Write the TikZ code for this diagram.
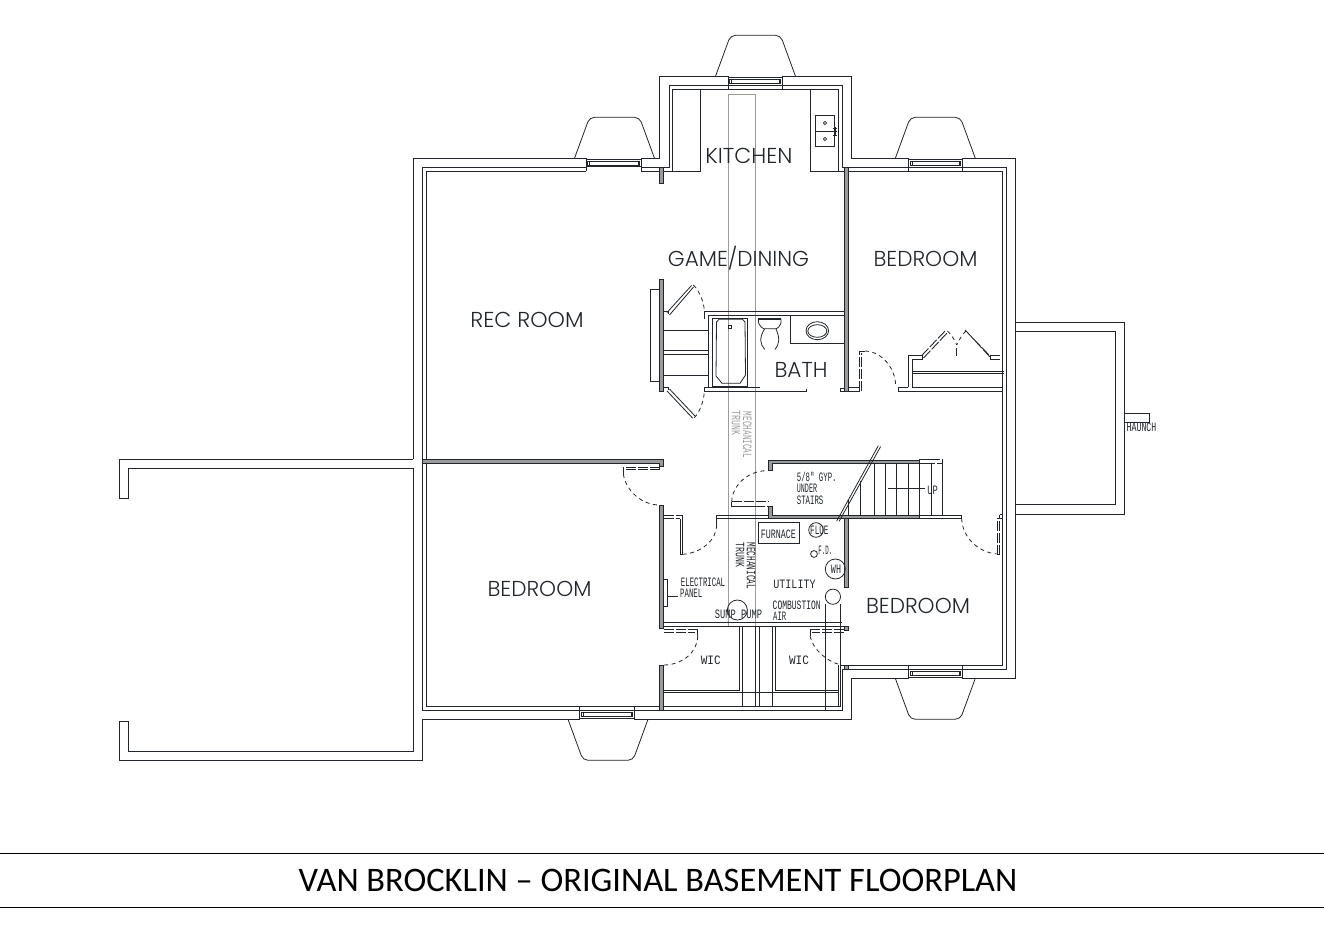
\documentclass[tikz,border=0pt]{standalone}
\usepackage{fontspec}
\usepackage{graphicx}
\usetikzlibrary{calc}
\setmainfont{Carlito}
\newfontfamily\roomfont{Poppins Light}
\newfontfamily\cadfont{Liberation Mono}
\definecolor{ink}{HTML}{20262B}
\definecolor{wallgray}{HTML}{9A9A9A}
\definecolor{trunkgray}{HTML}{9C9C9C}
\newcommand{\cadtxt}[2][0.92]{\scalebox{#1}[1.6]{\cadfont\fontsize{8}{8}\selectfont #2}}
\newcommand{\roomtxt}[2][1]{\scalebox{#1}[1]{\roomfont\fontsize{21.6}{21.6}\selectfont #2}}
\newcommand{\swing}[6]{\draw[swingline] (#1,#2) .. controls ($(#1,#2)!0.55!(#3,#4)$) and ($(#5,#6)!0.55!(#3,#4)$) .. (#5,#6);}
\newcommand{\win}[4]{\begin{scope}[shift={(0,#3)},yscale=#4]
  \draw[wall] (#1,0)--(#1,13) (#2,0)--(#2,13);
  \draw[thin line] (#1,1)--(#2,1);
  \draw[thin line] (#1+3,3)--(#2-3,3) (#1+3,7)--(#2-3,7);
  \draw[thin line] (#1+1.5,3.2) rectangle (#1+3.3,6.8) (#2-3.3,3.2) rectangle (#2-1.5,6.8);
\end{scope}}
\newcommand{\bay}[3]{\begin{scope}[shift={(#1,#2)},yscale=#3]
  \draw[thin line,rounded corners=5pt] (-40,0)--(-25,-41)--(25,-41)--(40,0);
\end{scope}}
\tikzset{
  wall/.style={draw=ink,line width=1pt,line cap=square,line join=miter},
  thin line/.style={draw=ink,line width=0.8pt},
  swingline/.style={draw=ink,line width=0.8pt,dash pattern=on 4pt off 3.5pt},
  leafdash/.style={draw=ink,line width=0.9pt,dash pattern=on 10pt off 2pt},
  gwall/.style={fill=wallgray,draw=ink,line width=0.8pt},
  trunk/.style={draw=trunkgray,line width=1pt},
  roomlabel/.style={text=ink,inner sep=0pt},
  cad/.style={text=ink,inner sep=0pt},
  cadgray/.style={text=trunkgray,inner sep=0pt},
}
\begin{document}
\begin{tikzpicture}[x=1pt,y=-1pt]
\useasboundingbox (0,0) rectangle (1324,931);
% trunk
\draw[trunk] (728.5,626)--(728.5,94.3)--(755.5,94.3)--(755.5,626)--cycle;
% outer shell
\draw[wall] (413.3,459.3)--(413.3,158.3)--(586.3,158.3);
\draw[wall] (641.3,158.3)--(659.3,158.3)--(659.3,76.3)--(728.3,76.3);
\draw[wall] (782.3,76.3)--(851.7,76.3)--(851.7,158.3)--(908.7,158.3);
\draw[wall] (962.3,158.3)--(1015.3,158.3)--(1015.3,678.3)--(962.3,678.3);
\draw[wall] (908.7,678.3)--(851.3,678.3)--(851.3,719.3)--(634.3,719.3);
\draw[wall] (579.7,719.3)--(422.3,719.3)--(422.3,760.3)--(119.3,760.3)--(119.3,721.3)--(128.3,721.3)--(128.3,751.3)--(413.3,751.3)--(413.3,468.3)--(128.3,468.3)--(128.3,498.3)--(119.3,498.3)--(119.3,459.3)--(413.3,459.3);
% middle line
\draw[wall] (586.3,167.3)--(422.3,167.3)--(422.3,710.3)--(579.7,710.3);
\draw[wall] (641.3,167.3)--(669.3,167.3)--(669.3,85.3)--(728.3,85.3);
\draw[wall] (728.3,85.3)--(782.3,85.3)--(842.7,85.3)--(842.7,167.3)--(908.7,167.3);
\draw[wall] (908.7,167.3)--(962.3,167.3)--(1006.7,167.3)--(1006.7,669.3)--(962.3,669.3);
\draw[wall] (962.3,669.3)--(908.7,669.3)--(842.3,669.3)--(842.3,710.3)--(634.3,710.3);
\draw[wall] (634.3,710.3)--(579.7,710.3);
% inner line
\draw[wall] (586.3,171.3)--(426.3,171.3)--(426.3,706.3)--(579.7,706.3);
\draw[wall] (641.3,171.3)--(700.7,171.3)--(700.7,89.7)--(672.7,89.7)--(672.7,171.3);
\draw[wall] (700.7,89.7)--(810.3,89.7);
\draw[wall] (810.3,89.7)--(838.7,89.7)--(838.7,171.3)--(810.3,171.3)--cycle;
\draw[wall] (838.7,171.3)--(1002.7,171.3)--(1002.7,665.3)--(840.7,665.3);
\draw[wall] (579.7,706.3)--(840.7,706.3);
% windows
\win{728.3}{782.3}{76.3}{1}
\win{586.3}{641.3}{158.3}{1}
\draw[thin line] (586.3,166)--(641.3,166);
\win{908.7}{962.3}{158.3}{1}
\win{908.7}{962.3}{678.3}{-1}
\win{579.7}{634.3}{719.3}{-1}
% bays
\bay{755.5}{76.3}{1}
\bay{614.5}{158.3}{1}
\bay{935.3}{158.3}{1}
\bay{935.3}{678.3}{-1}
\bay{608}{719.3}{-1}
% porch and haunch
\draw[wall] (1015.3,322.3)--(1124.3,322.3)--(1124.3,514.3)--(1015.3,514.3);
\draw[wall] (1015.3,331.3)--(1115.3,331.3)--(1115.3,504.3)--(1015.3,504.3);
\draw[wall] (1124.3,413.3)--(1149.3,413.3)--(1149.3,422.3)--(1124.3,422.3);
\node[cad] (haunch) at (1141.5,427) {\cadtxt[1.03]{HAUNCH}};
% kitchen sink
\draw[thin line] (815.3,115.3) rectangle (834.7,146.7) (815.3,131)--(834.7,131);
\draw[thin line] (825,123) circle (1.6) (825,139) circle (1.6);
\draw[thin line] (835,127)--(835,136) (833,128)--(837,128) (833,131)--(837,131) (833,135)--(837,135);
% gray walls
\filldraw[gwall] (659.3,167.3) rectangle (663.7,183.3);
\filldraw[gwall] (844.3,167.3) rectangle (848.7,391);
\filldraw[gwall] (659.3,279.3) rectangle (663.7,391.3);
\filldraw[gwall] (422.3,459.3)--(663.7,459.3)--(663.7,466.3)--(659.7,466.3)--(659.7,463.3)--(422.3,463.3)--cycle;
\filldraw[gwall] (659.3,505.3) rectangle (663.7,628.3);
\filldraw[gwall] (659.3,665) rectangle (663.7,710.3);
\filldraw[gwall] (772,470)--(768,470)--(768,460)--(919.3,460)--(919.3,463.7)--(772,463.7)--cycle;
\filldraw[gwall] (772,506.7)--(768,506.7)--(768,518.3)--(919.3,518.3)--(919.3,515)--(772,515)--cycle;
\filldraw[gwall] (844.3,518.3) rectangle (848.7,587.7);
\filldraw[gwall] (844.3,626.7) rectangle (848.7,630);
\filldraw[gwall] (844.3,665.3) rectangle (848.7,669.3);
% fireplace
\draw[wall] (659.3,289.3)--(650.3,289.3)--(650.3,381.3)--(659.3,381.3);
\draw[wall] (663.7,330.3)--(708.3,330.3) (663.7,350.3)--(708.3,350.3) (663.7,354.7)--(708.3,354.7) (663.7,375.3)--(708.3,375.3);
% bath walls
\draw[wall] (704.3,319)--(704.3,311)--(844.3,311);
\draw[wall] (708.3,387.3)--(708.3,315.3)--(844.3,315.3);
\draw[wall] (760,387.3)--(704.3,387.3)--(704.3,391)--(806.7,391)--(806.7,388.7);
\draw[wall] (840,391)--(840,388.3)--(844.3,388.3);
\draw[wall] (840,391)--(844.3,391);
% double doors at the fireplace
\draw[thin line] (663.7,311)--(668.3,311)--(668.3,314);
\draw[thin line] (667,312.5)--(691.5,285.5) (669.5,315)--(693.5,287);
\swing{693.3}{285}{704}{295}{704.3}{311}
\draw[thin line] (663.7,387.3)--(668.3,387.3)--(668.3,390);
\draw[thin line] (667,391)--(692.5,418) (669.5,389)--(695,416);
\swing{694.3}{417.7}{704}{408}{704.3}{391}
% tub
\draw[wall] (712.7,318.3) rectangle (747.7,386.7);
\draw[draw=ink,line width=1.6pt] (712.7,318.3)--(747.7,318.3) (712.7,386.7)--(747.7,386.7);
\draw[thin line] (719,319.3)--(742.5,319.3)--(745,322)--(745.5,375)--(740,383.3)--(722,383.3)--(716,376)--(716.5,322)--cycle;
\draw[thin line] (728.2,325.2) rectangle (731.4,328.2);
% toilet
\draw[draw=ink,line width=1.5pt] (758.3,319)--(781,319);
\draw[thin line] (758.3,319) .. controls (757.8,327) and (764,328.7) .. (764,328.7)--(776,328.7) .. controls (776,328.7) and (782,327) .. (781,319);
\draw[thin line] (764.5,329) .. controls (759,338) and (760,344) .. (764.7,349.5);
\draw[thin line] (776,329) .. controls (780,338) and (779.5,344) .. (775,349.5);
% vanity
\draw[wall] (790.3,315.3)--(790.3,343.3)--(844.3,343.3);
\draw[thin line] (817.3,330.7) ellipse (11.3 and 9);
\draw[thin line] (817.3,331) ellipse (9.5 and 6.3);
% bedroom door by the bath
\draw[leafdash] (859.7,391)--(859.7,351)--(865,351);
\draw[leafdash] (861.6,391)--(861.6,353);
\draw[leafdash] (848.7,387)--(860,387);
\draw[thin line] (848.7,391)--(860,391);
\swing{865}{351}{895}{352}{895.7}{386}
\draw[wall] (898.3,387.3)--(898.3,391)--(1002.7,391);
% closet
\draw[leafdash] (898.3,387.3)--(908.3,387.3);
\draw[wall] (908.3,387.3)--(908.3,355.7);
\draw[thin line] (908.3,355.7)--(922.7,355.7)--(922.7,359.3)--(912.3,359.3);
\draw[wall] (912.3,359.3)--(912.3,387.3)--(1002.7,387.3);
\draw[wall] (912.3,371.7)--(1004,371.7) (912.3,373.5)--(1004,373.5);
\draw[leafdash] (921.5,355.7)--(946,330) (923.5,358)--(948,332);
\draw[leafdash] (967,332)--(990,357) (965,330)--(989,355);
\swing{947.3}{331}{953}{335}{956.7}{345}
\swing{966}{331}{961}{335}{956.7}{345}
\draw[thin line] (956.7,348.3)--(956.7,355.7);
\draw[thin line] (990,355.7)--(990,359.3);
\draw[leafdash] (990,355.7)--(1002.7,355.7) (990,359.3)--(1002.7,359.3);
% door rec / bedroom
\draw[leafdash] (659.7,467.3)--(623.3,467.3);
\draw[leafdash] (659.7,469.6)--(623.3,469.6);
\draw[thin line] (659.7,463.3)--(659.7,469.6);
\draw[thin line] (623.3,467.3)--(623.3,474);
\swing{623.3}{474}{628}{505}{659.3}{505}
% utility door top
\draw[leafdash] (663.7,515)--(682.7,515) (663.7,518.7)--(680.3,518.7);
\draw[thin line] (682.7,515)--(682.7,554.3)--(680.3,554.3)--(680.3,518.7);
\swing{682.7}{554.3}{716.7}{552}{716.7}{525}
\draw[wall] (716.7,525)--(716.7,515)--(768,515);
\draw[wall] (716.7,518.7)--(768,518.7);
% under stairs door
\draw[wall] (731.7,501.7)--(731.7,506)--(755,506);
\draw[leafdash] (731.7,501.7)--(768,501.7);
\draw[leafdash] (755,506)--(768,506);
\swing{731.7}{501.7}{733}{471}{766.7}{470.7}
% stairs
\draw[thin line] (860,481)--(860,515) (874.3,463.7)--(874.3,515) (885.7,463.7)--(885.7,515) (896.7,463.7)--(896.7,515) (908,463.7)--(908,515) (919.3,463.7)--(919.3,515) (931.7,463.7)--(931.7,515);
\draw[thin line] (848.7,500)--(848.7,515);
\draw[wall] (942.5,463.5)--(942.5,515);
\draw[thin line] (919.3,459.8)--(930,459.8) (919.3,463.5)--(930,463.5);
\draw[leafdash] (930,459.8)--(942.5,459.8)--(942.5,463.5)--(930,463.5);
\draw[thin line] (888.3,488.3)--(925,488.3);
\draw[thin line] (878.3,445.7)--(836.7,521) (880.6,446.6)--(839,521.5);
% stairs bottom line and door
\draw[wall] (919.3,515)--(961.7,515)--(961.7,518.3)--(919.3,518.3);
\swing{961.7}{518.3}{962}{551}{996.7}{554}
\draw[thin line] (997.3,554.7)--(1000,554.7);
\draw[leafdash] (997.3,554.7)--(997.3,518);
\draw[leafdash] (999.7,554.7)--(999.7,515);
\draw[thin line] (997.3,518)--(1002.7,518) (999.7,514.3)--(1002.7,514.3);
% utility bottom wall
\draw[wall] (663.7,622.3)--(841.7,622.3);
\draw[wall] (663.7,626.7)--(844.3,626.7);
\draw[leafdash] (663.7,629.3)--(697.7,629.3) (663.7,632)--(695,632);
\draw[thin line] (697.7,629.3)--(697.7,636);
\swing{697.7}{636}{697.7}{665}{663.7}{665}
\draw[leafdash] (844.3,629.3)--(810,629.3) (844.3,632)--(812,632);
\draw[thin line] (810,629.3)--(810,636);
\swing{810}{636}{815}{660}{841.7}{665}
% closets
\draw[wall] (739.7,626.7)--(739.7,690.7)--(663.7,690.7);
\draw[wall] (742.3,626.7)--(742.3,706.3);
\draw[wall] (755.3,626.7)--(755.3,706.3) (759.3,626.7)--(759.3,706.3);
\draw[wall] (772.3,626.7)--(772.3,706.3);
\draw[wall] (775.3,626.7)--(775.3,690.7)--(838.3,690.7);
\draw[wall] (663.7,692.5)--(838.3,692.5);
\draw[wall] (838.3,665.3)--(838.3,706.3);
% utility fixtures
\draw[wall] (825.3,604)--(825.3,710.3);
\draw[wall] (840.7,604)--(840.7,706.3);
\draw[thin line] (832.9,596.7) circle (7.6);
\draw[thin line] (663.7,579.3) rectangle (667.3,606);
\draw[thin line] (667.3,596.7)--(678.3,596.7);
\draw[wall] (758.3,522.7) rectangle (799.3,543.3);
\draw[thin line] (816,530) circle (7.3);
\draw[thin line] (814,554) circle (3.4);
\draw[thin line] (835.3,569) circle (10);
\draw[thin line] (737.3,610) circle (10);
% room labels
\node[roomlabel] (kitchen) at (749,156) {\roomtxt[1.02]{KITCHEN}};
\node[roomlabel] (game) at (738.5,258.5) {\roomtxt{GAME/DINING}};
\node[roomlabel] (bed1) at (925.5,258.5) {\roomtxt{BEDROOM}};
\node[roomlabel] (rec) at (527,320) {\roomtxt[1.02]{REC ROOM}};
\node[roomlabel] (bed2) at (539.5,588.5) {\roomtxt{BEDROOM}};
\node[roomlabel] (bed3) at (918,606) {\roomtxt{BEDROOM}};
\node[roomlabel] (bath) at (801,369.5) {\roomtxt{BATH}};
% cad labels
\node[cad] (ep1) at (703,582) {\cadtxt{ELECTRICAL}};
\node[cad,anchor=west] (ep2) at (680,593) {\cadtxt{PANEL}};
\node[cad] (furn) at (778.3,534) {\cadtxt[1.04]{FURNACE}};
\node[cad] (flue) at (819.3,530) {\cadtxt[0.95]{FLUE}};
\node[cad] (fd) at (825.3,550) {\cadtxt[0.72]{F.D.}};
\node[cad] (wh) at (836,569) {\cadtxt[1.05]{WH}};
\node[cad] (util) at (794.5,584) {\cadtxt[1.26]{UTILITY}};
\node[cad] (comb) at (796.7,605) {\cadtxt[1]{COMBUSTION}};
\node[cad,anchor=west] (air) at (773,616) {\cadtxt[0.9]{AIR}};
\node[cad] (sump) at (738.5,614) {\cadtxt[1.09]{SUMP PUMP}};
\node[cad] (wic1) at (710.7,660) {\cadtxt[1.38]{WIC}};
\node[cad] (wic2) at (799,660) {\cadtxt[1.38]{WIC}};
\node[cad,anchor=west] (g1) at (796.7,477) {\cadtxt{5/8" GYP.}};
\node[cad,anchor=west] (g2) at (796.7,488.5) {\cadtxt[0.84]{UNDER}};
\node[cad,anchor=west] (g3) at (796.7,500) {\cadtxt{STAIRS}};
\node[cad] (up) at (932.7,490) {\cadtxt[1.1]{UP}};
\node[cad,rotate=-90] (mt1) at (751,565.7) {\cadtxt[0.97]{MECHANICAL}};
\node[cad,rotate=-90] (mt2) at (740,555) {\cadtxt[1.03]{TRUNK}};
\node[cadgray,rotate=-90] (mt3) at (747.3,435) {\cadtxt[0.97]{MECHANICAL}};
\node[cadgray,rotate=-90] (mt4) at (736,423.3) {\cadtxt[1.03]{TRUNK}};
% title
\draw[black,line width=0.9pt] (0,853.3)--(1324,853.3) (0,907.3)--(1324,907.3);
\node[inner sep=0pt,text=black] (title) at (658,880) {\fontsize{34.4}{34.4}\selectfont VAN BROCKLIN – ORIGINAL BASEMENT FLOORPLAN};
\end{tikzpicture}
\end{document}
